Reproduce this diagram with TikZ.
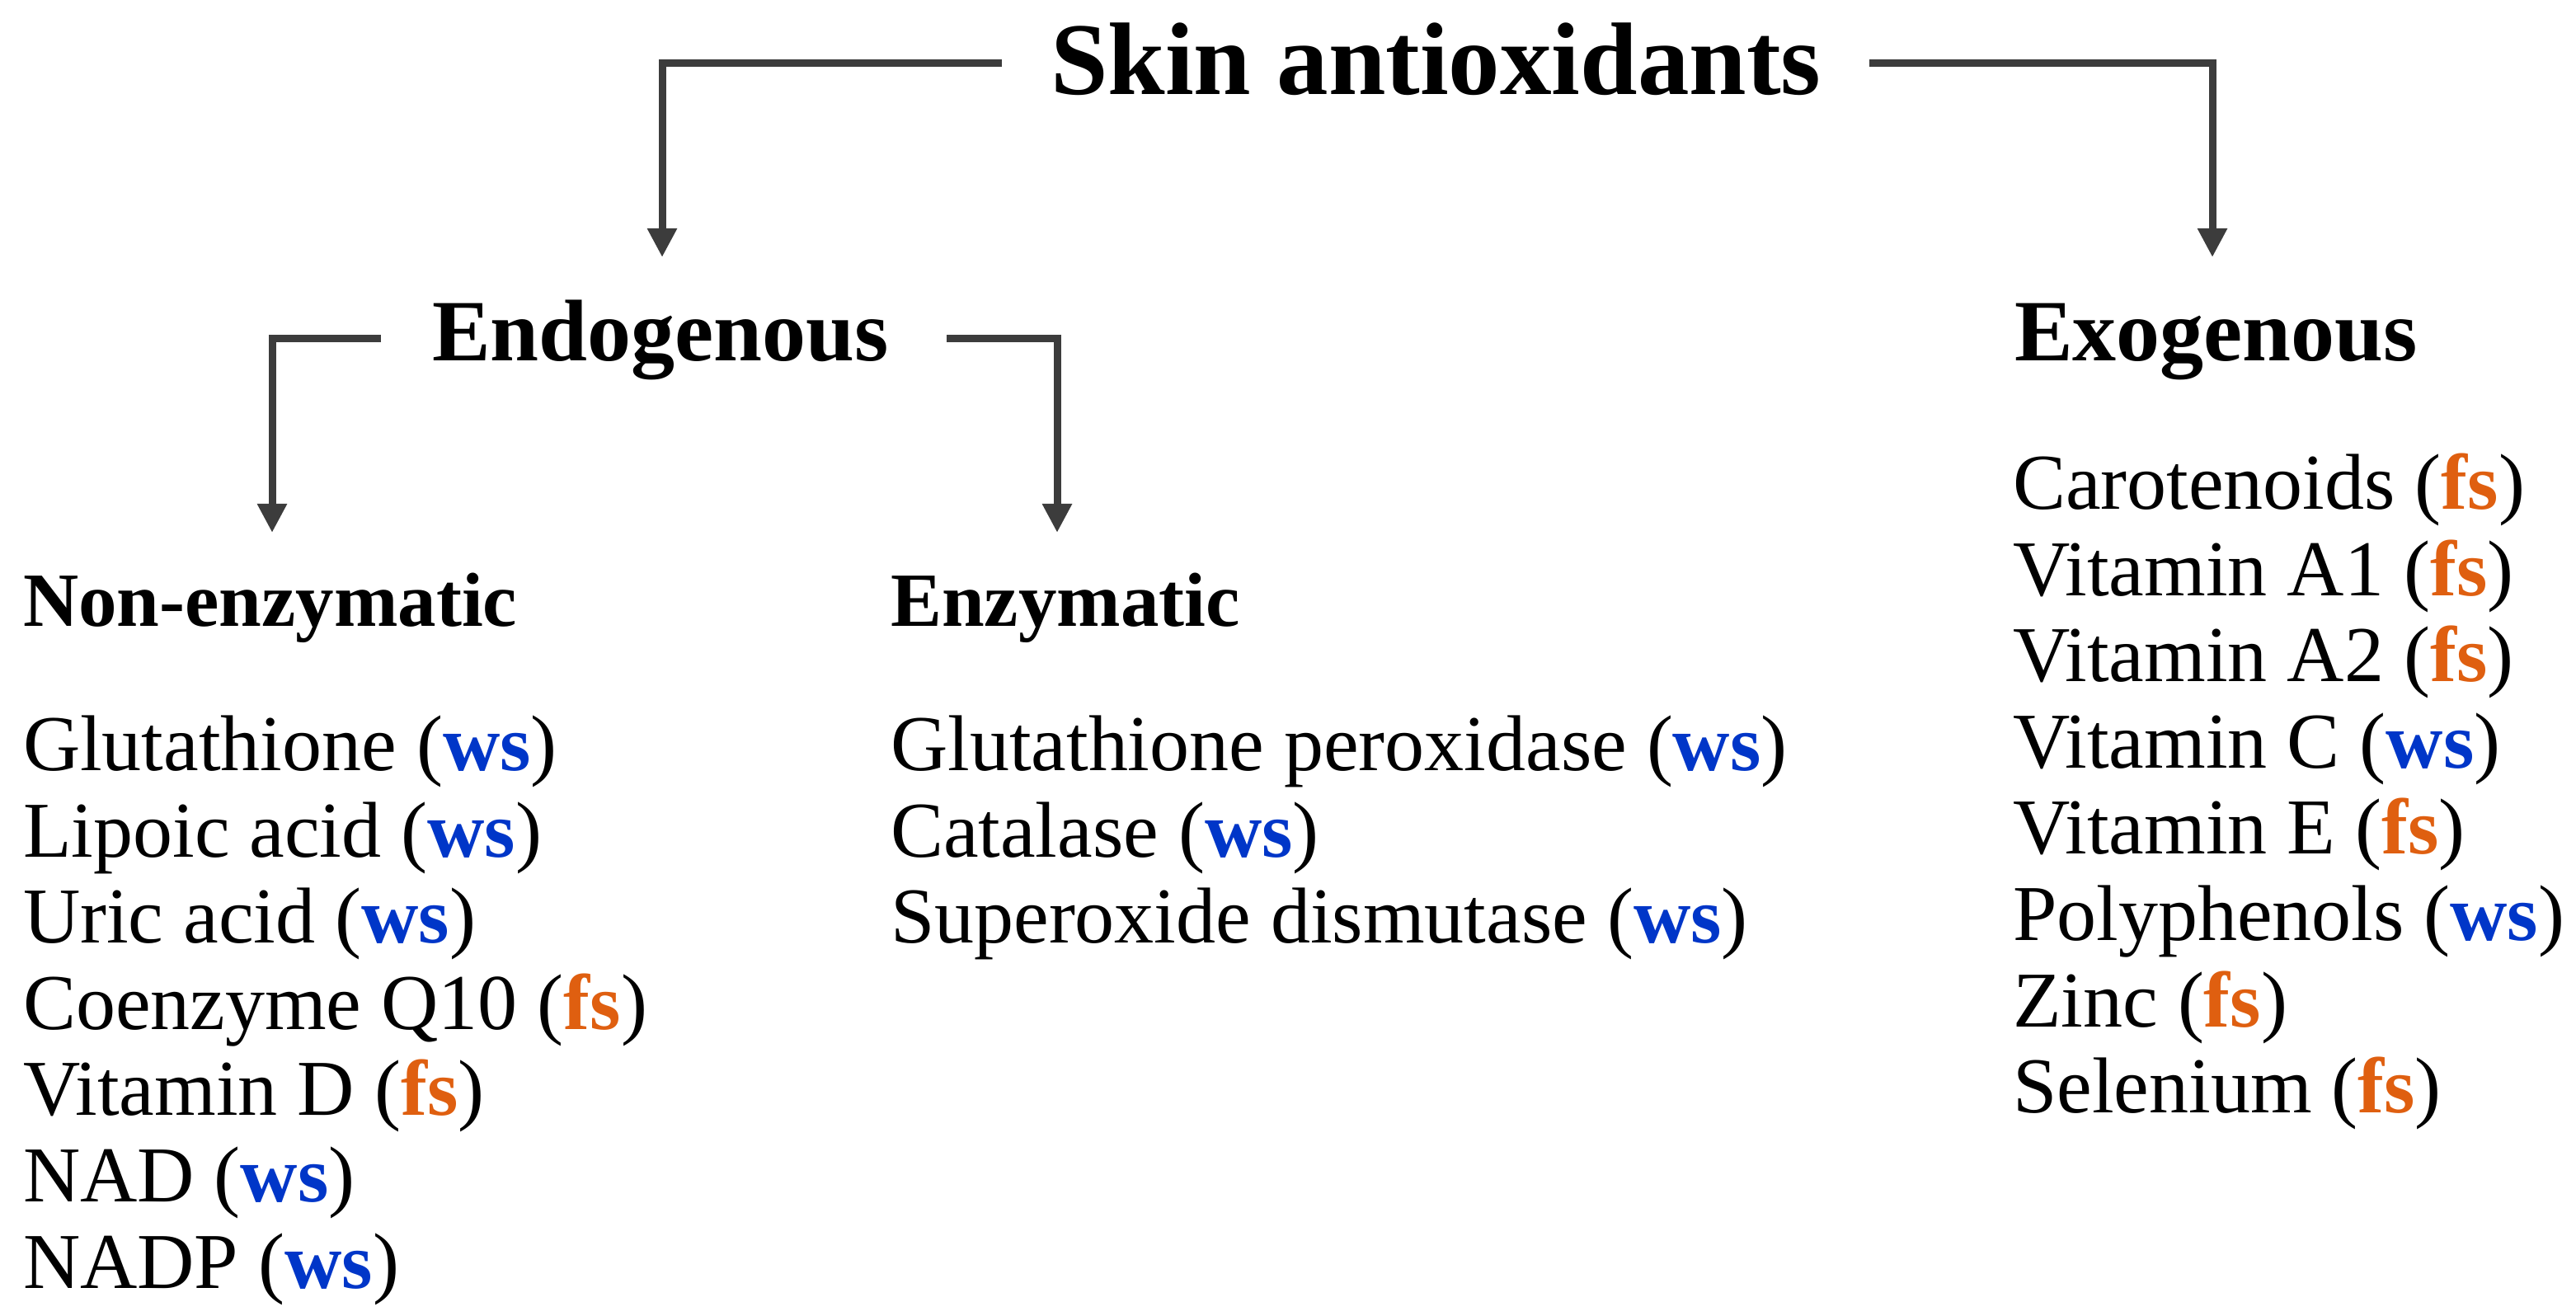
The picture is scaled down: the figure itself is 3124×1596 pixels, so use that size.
\documentclass[tikz,border=0pt]{standalone}
\usepackage{fontspec}
\setmainfont{Liberation Serif}
\usetikzlibrary{arrows.meta}
\definecolor{wsblue}{HTML}{0036C8}
\definecolor{fsorange}{HTML}{DF5F10}
\definecolor{linegray}{HTML}{3C3C3C}
\newcommand{\ws}{(\textcolor{wsblue}{\textbf{ws}})}
\newcommand{\fs}{(\textcolor{fsorange}{\textbf{fs}})}
\tikzset{
  conn/.style={draw=linegray, line width=0.9pt, -{Triangle[length=3.5pt,width=3.4pt]}},
  titlebox/.style={inner sep=0pt, anchor=base west, font=\fontsize{12.5pt}{15pt}\selectfont\bfseries},
  headbox/.style={inner sep=0pt, anchor=base west, font=\fontsize{10.6pt}{13pt}\selectfont\bfseries},
  subbox/.style={inner sep=0pt, anchor=base west, font=\fontsize{9.3pt}{11pt}\selectfont\bfseries},
  listbox/.style={inner sep=0pt, anchor=north west, align=left, font=\fontsize{9.6pt}{10.46pt}\selectfont},
}
\begin{document}
\begin{tikzpicture}[x=0.1pt,y=-0.1pt]
\useasboundingbox (0,0) rectangle (3124,1596);
% titles
\node[titlebox] (title) at (1272,115) {Skin antioxidants};
\node[headbox] (endo) at (522,438) {Endogenous};
\node[headbox] (exo) at (2441,438) {Exogenous};
\node[subbox] (nonenz) at (26,760) {Non-enzymatic};
\node[subbox] (enz) at (1078,760) {Enzymatic};
% lists
\node[listbox] (nonlist) at (26,866) {Glutathione \ws\\Lipoic acid \ws\\Uric acid \ws\\Coenzyme Q10 \fs\\Vitamin D \fs\\NAD \ws\\NADP \ws};
\node[listbox] (enzlist) at (1078,866) {Glutathione peroxidase \ws\\Catalase \ws\\Superoxide dismutase \ws};
\node[listbox] (exolist) at (2439,548) {Carotenoids \fs\\Vitamin A1 \fs\\Vitamin A2 \fs\\Vitamin C \ws\\Vitamin E \fs\\Polyphenols \ws\\Zinc \fs\\Selenium \fs};
% connector end points
\coordinate (tL) at (1215,77);
\coordinate (tR) at (2267,77);
\coordinate (endoIn) at (803,312);
\coordinate (exoIn) at (2683,312);
\coordinate (eL) at (462,411);
\coordinate (eR) at (1148,411);
\coordinate (nonIn) at (330,646);
\coordinate (enzIn) at (1282,646);
% connectors
\draw[conn] (tL) -| (endoIn);
\draw[conn] (tR) -| (exoIn);
\draw[conn] (eL) -| (nonIn);
\draw[conn] (eR) -| (enzIn);
\end{tikzpicture}
\end{document}
